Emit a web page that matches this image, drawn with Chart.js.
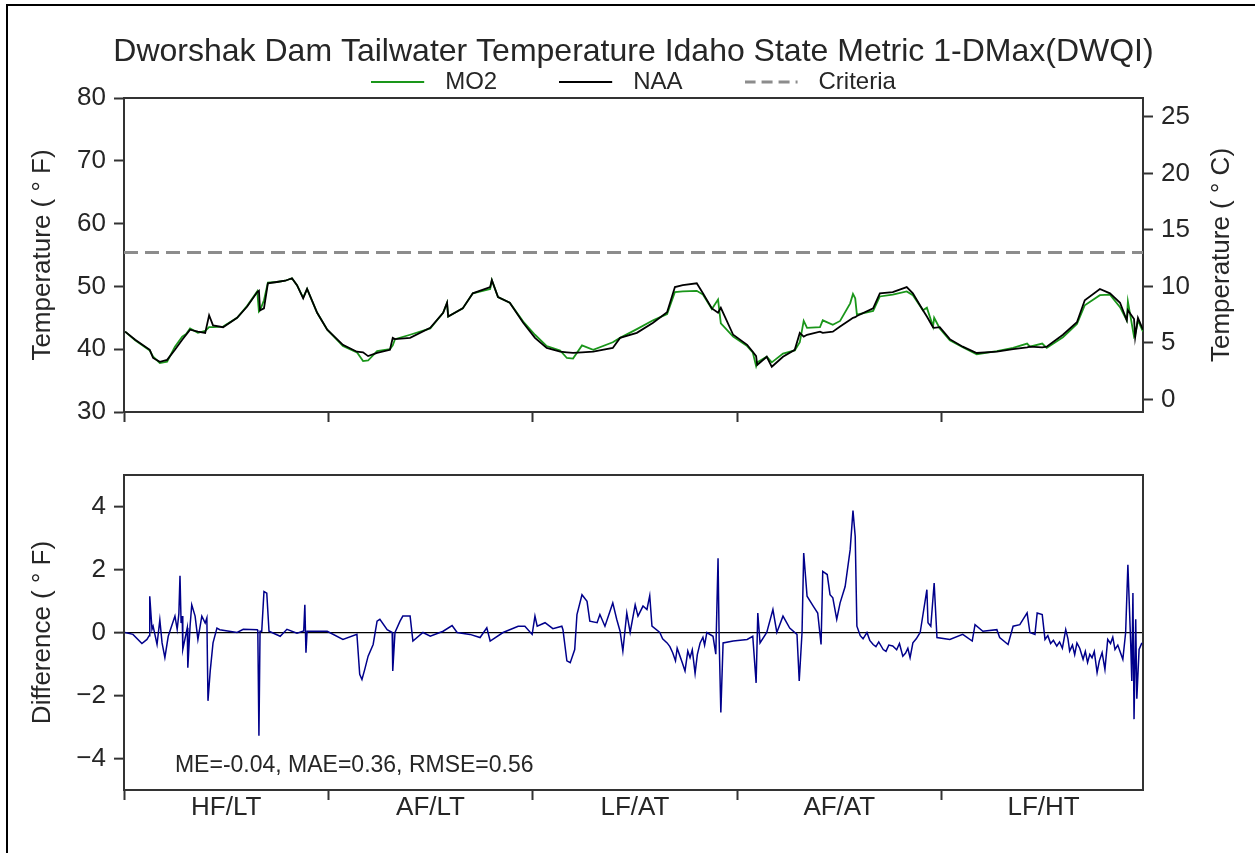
<!DOCTYPE html>
<html><head><meta charset="utf-8">
<script src="https://cdn.jsdelivr.net/npm/chart.js@4.4.1/dist/chart.umd.min.js"></script>
<style>
html,body{margin:0;padding:0;background:#fff;}
#wrap{position:relative;width:1255px;height:853px;overflow:hidden;background:#fff;}
#frame{position:absolute;left:6px;top:4px;width:1300px;height:900px;border-left:2px solid #000;border-top:2px solid #000;}
#c1{position:absolute;left:0;top:0;width:1255px;height:440px;}
#c2{position:absolute;left:0;top:430px;width:1255px;height:423px;}
</style></head><body>
<div id="wrap"><div id="frame"></div>
<canvas id="c1" width="1255" height="440"></canvas>
<canvas id="c2" width="1255" height="423"></canvas>
</div>
<script>
// ---------------- DATA ----------------
const chartTitle = 'Dworshak Dam Tailwater Temperature Idaho State Metric 1-DMax(DWQI)';
const seriesNames = ['MO2', 'NAA', 'Criteria'];
const axisTitleF = 'Temperature ( \u00B0 F)';
const axisTitleC = 'Temperature ( \u00B0 C)';
const axisTitleDiff = 'Difference ( \u00B0 F)';
const periodLabels = ['HF/LT', 'AF/LT', 'LF/AT', 'AF/AT', 'LF/HT'];
const periodStarts = [0, 365, 730, 1095, 1460];      // day index where each period begins
const periodCenters = [182.5, 547.5, 912.5, 1277.5, 1642.5];
const dayRange = [0, 1820];
const tempTicksF = [30, 40, 50, 60, 70, 80];
const tempTicksC = [0, 5, 10, 15, 20, 25];
const diffTicks = [-4, -2, 0, 2, 4];
const diffTickLabels = ['\u22124', '\u22122', '0', '2', '4'];
const statsText = 'ME=-0.04, MAE=0.36, RMSE=0.56';

const tempDays = [
  2,20,46,52,64,77,91,104,111,118,
  132,145,152,159,177,202,220,238,241,243,
  250,257,273,288,300,309,320,327,345,363,
  391,416,427,436,452,475,480,484,511,547,
  570,577,579,605,623,654,657,668,689,713,
  734,755,779,791,802,818,838,873,886,916,
  945,970,984,998,1023,1034,1050,1061,1066,1088,
  1113,1123,1129,1131,1148,1157,1177,1198,1207,1214,
  1220,1243,1248,1266,1279,1297,1302,1306,1309,1338,
  1350,1373,1398,1409,1427,1434,1445,1447,1457,1475,
  1498,1523,1559,1588,1613,1618,1640,1648,1677,1702,
  1716,1743,1761,1779,1791,1793,1804,1806,1811,1820];
const naaF = [
  42.8,41.5,39.9,38.6,38.0,38.3,39.9,41.5,42.3,43.1,
  42.8,42.6,45.4,43.8,43.5,45.0,46.8,49.1,49.3,46.2,
  46.5,50.5,50.7,50.9,51.3,50.2,48.1,49.6,45.8,43.1,
  40.7,39.6,39.5,38.9,39.4,39.9,41.8,41.6,41.8,43.4,
  45.8,47.4,45.2,46.5,48.9,49.9,51.0,48.3,47.4,44.2,
  41.8,40.2,39.6,39.5,39.4,39.5,39.6,40.2,41.8,42.6,
  44.2,45.9,49.9,50.2,50.5,48.9,46.5,45.8,46.6,42.3,
  40.7,39.6,38.9,37.5,38.8,37.2,38.8,39.9,42.6,42.0,
  42.3,42.8,42.6,42.8,43.6,44.7,45.0,45.1,45.3,46.5,
  48.9,49.1,49.9,48.9,46.2,45.2,43.5,43.4,43.5,41.6,
  40.4,39.4,39.6,40.0,40.3,40.4,40.3,40.4,42.3,44.3,
  47.8,49.6,48.9,47.4,44.6,46.2,44.8,41.9,45.0,43.1];
const mo2F = [
  42.8,41.4,39.8,38.8,37.8,38.0,40.4,42.0,42.4,43.3,
  42.6,42.9,43.5,43.5,43.6,45.0,46.9,49.2,46.0,46.2,
  47.8,50.6,50.7,50.9,51.3,50.2,48.2,49.6,45.8,43.1,
  40.5,39.5,38.1,38.2,39.7,40.0,40.6,41.6,42.3,43.3,
  45.8,47.4,45.2,46.5,48.9,49.6,51.0,48.3,47.4,44.4,
  42.3,40.5,39.8,38.6,38.5,40.6,39.9,41.1,41.8,43.2,
  44.6,45.6,49.1,49.2,49.3,48.7,46.4,47.9,44.1,42.0,
  40.5,39.5,37.3,37.9,38.8,37.9,39.3,39.8,41.1,44.5,
  43.4,43.5,44.6,43.9,44.5,47.3,48.8,48.1,45.5,46.1,
  48.4,48.7,49.2,48.6,46.2,46.6,43.6,45.0,43.3,41.4,
  40.3,39.2,39.7,40.2,40.9,40.4,40.9,40.2,41.9,44.0,
  47.0,48.6,48.7,46.7,44.6,47.6,42.0,42.3,44.6,42.8];
const criteriaDays = [0, 1820];
const criteriaF = [55.4, 55.4];

const diffDays = [
  2,16,32,41,45,46,50,52,59,64,
  68,73,79,91,95,98,100,102,104,105,
  113,114,118,121,127,132,139,145,148,150,
  154,159,166,171,202,213,238,239,241,243,
  246,250,255,259,279,291,309,321,323,325,
  327,363,391,416,421,425,430,436,445,452,
  457,470,479,480,484,493,498,511,516,534,
  547,570,586,595,618,636,648,654,677,704,
  716,729,734,738,752,766,782,784,791,797,
  805,809,818,827,832,845,850,859,873,880,
  886,891,898,904,913,918,927,934,939,943,
  957,962,970,975,980,985,988,993,997,1002,
  1007,1011,1015,1020,1024,1029,1034,1037,1041,1052,
  1057,1061,1063,1066,1070,1088,1113,1123,1129,1132,
  1136,1148,1159,1166,1177,1189,1202,1206,1211,1214,
  1220,1231,1239,1245,1248,1256,1261,1266,1273,1279,
  1288,1297,1302,1306,1309,1315,1320,1327,1332,1338,
  1343,1348,1356,1361,1366,1373,1380,1385,1391,1396,
  1400,1404,1409,1415,1422,1434,1436,1441,1447,1452,
  1475,1498,1515,1520,1534,1559,1564,1579,1588,1600,
  1613,1618,1627,1631,1640,1645,1650,1655,1660,1666,
  1671,1676,1682,1686,1689,1694,1698,1702,1707,1713,
  1717,1721,1725,1729,1733,1738,1742,1747,1752,1757,
  1762,1766,1770,1775,1779,1784,1789,1793,1798,1800,
  1802,1804,1807,1809,1813,1818];
const diffF = [
  0,-0.06,-0.35,-0.22,-0.1,1.15,0.1,0.2,-0.38,0.4,
  -0.33,-0.8,-0.12,0.52,0.1,0.6,1.8,0.3,0.52,-0.54,
  0.15,-1.12,0.2,0.88,0.52,-0.22,0.52,0.3,0.46,-2.17,
  -1.22,-0.33,0.14,0.09,0.0,0.1,0.09,0.05,-3.28,0.04,
  0.04,1.3,1.25,0.04,-0.12,0.1,-0.02,0.05,0.88,-0.64,
  0.04,0.04,-0.22,-0.06,-1.33,-1.49,-1.17,-0.75,-0.38,0.36,
  0.42,0.09,0.0,-1.22,0.0,0.36,0.52,0.52,-0.27,0.0,
  -0.12,0.04,0.22,0.0,-0.06,-0.16,0.15,-0.27,0.0,0.2,
  0.2,-0.06,0.52,0.2,0.31,0.12,0.2,0.09,-0.9,-0.96,
  -0.54,0.57,1.2,0.99,0.36,0.31,0.57,0.2,0.94,0.42,
  0.04,-0.59,0.62,0.0,0.88,0.52,0.84,0.73,1.17,0.2,
  0.0,-0.2,-0.33,-0.45,-0.64,-0.9,-0.5,-0.75,-0.95,-1.22,
  -0.59,-0.8,-0.55,-1.3,-0.7,-0.33,-0.15,-0.4,0.0,-0.12,
  -0.69,2.36,-0.22,-2.54,-0.33,-0.27,-0.22,-0.12,-1.6,0.62,
  -0.33,0.0,0.73,0.0,0.52,0.14,-0.06,-1.54,0.0,2.52,
  1.15,0.84,0.62,-0.38,1.94,1.84,1.2,1.1,0.42,0.94,
  1.46,2.63,3.87,3.05,0.2,-0.1,-0.2,0.0,-0.25,-0.38,
  -0.45,-0.3,-0.54,-0.6,-0.4,-0.43,-0.55,-0.35,-0.75,-0.65,
  -0.5,-0.8,-0.33,-0.2,0.0,1.36,0.31,0.2,1.57,-0.16,
  -0.22,-0.06,-0.27,0.25,0.04,0.09,-0.16,-0.38,0.2,0.25,
  0.62,0.0,-0.06,0.62,0.57,-0.22,-0.1,-0.35,-0.25,-0.43,
  -0.3,-0.5,0.09,-0.2,-0.59,-0.4,-0.7,-0.33,-0.5,-0.85,
  -0.6,-0.95,-0.69,-0.8,-0.6,-1.27,-0.9,-0.64,-1.17,-0.22,
  -0.35,-0.15,-0.54,-0.4,-0.6,-0.85,0.0,2.15,-0.33,-1.54,
  1.25,-2.75,0.42,-2.1,-0.54,-0.33];
const statsPos = [91, -4.22];   // data coordinates of the statistics note

// ---------------- STYLE ----------------
const FONT = '"Liberation Sans", Arial, Helvetica, sans-serif';
const TXT = '#262626';
const SPINE = '#333333';
const GREEN = '#1a961a';
Chart.defaults.font.family = FONT;
Chart.defaults.color = TXT;

const fToC = f => (f - 32) / 1.8;
const pts = (xs, ys) => xs.map((d, i) => ({x: d, y: ys[i]}));

function legendSymbol(color, width, dash) {
  const c = document.createElement('canvas');
  c.width = 62; c.height = 6;
  const g = c.getContext('2d');
  g.strokeStyle = color; g.lineWidth = width; g.setLineDash(dash);
  g.beginPath(); g.moveTo(0, 3); g.lineTo(53, 3); g.stroke();
  return c;
}

const spine = {color: SPINE, width: 2};
const tickGrid = {drawOnChartArea: false, tickLength: 10, tickWidth: 2, tickColor: SPINE};
const hiddenAxis = (pos, isX) => ({
  type: 'linear', position: pos, display: true,
  ticks: {display: false}, grid: {display: false, drawTicks: false},
  border: spine,
  afterFit: s => { if (isX) s.height = 0; else s.width = 0; }
});

// right-hand axis title, read bottom-to-top like the left one
const rightTitlePlugin = {
  id: 'rightTitle',
  afterDraw(chart) {
    const s = chart.scales.yC, ctx = chart.ctx;
    ctx.save();
    ctx.font = '26px ' + FONT;
    ctx.fillStyle = TXT;
    ctx.textAlign = 'center';
    ctx.textBaseline = 'middle';
    ctx.translate(s.right - 33, (s.top + s.bottom) / 2);
    ctx.rotate(-Math.PI / 2);
    ctx.fillText(axisTitleC, 0, 0);
    ctx.restore();
  }
};

// ---------------- TOP PANEL ----------------
new Chart(document.getElementById('c1'), {
  type: 'line',
  data: {
    datasets: [
      {label: seriesNames[0], data: pts(tempDays, mo2F), borderColor: GREEN, backgroundColor: GREEN,
       borderWidth: 1.8, pointRadius: 0, order: 2, pointStyle: legendSymbol(GREEN, 2, []), yAxisID: 'y'},
      {label: seriesNames[1], data: pts(tempDays, naaF), borderColor: '#000', backgroundColor: '#000',
       borderWidth: 1.8, pointRadius: 0, order: 1, pointStyle: legendSymbol('#000', 2, []), yAxisID: 'y'},
      {label: seriesNames[2], data: pts(criteriaDays, criteriaF), borderColor: '#8c8c8c', backgroundColor: '#8c8c8c',
       borderWidth: 3, borderDash: [14, 7], pointRadius: 0, order: 3, pointStyle: legendSymbol('#8c8c8c', 3, [11, 6]), yAxisID: 'y'}
    ]
  },
  plugins: [rightTitlePlugin],
  options: {
    responsive: false, animation: false, events: [],
    layout: {padding: {left: 12, right: 0, top: 0, bottom: 0}},
    plugins: {
      title: {display: true, text: chartTitle, fullSize: true, color: TXT,
              font: {size: 32, weight: 'normal'}, padding: {top: 33, bottom: -63.4}},
      legend: {display: true, fullSize: false, maxHeight: 90,
               labels: {usePointStyle: true, pointStyleWidth: 62, padding: 62, color: TXT,
                        font: {size: 24}, sort: (a, b) => a.datasetIndex - b.datasetIndex}},
      tooltip: {enabled: false}
    },
    scales: {
      x: {type: 'linear', min: dayRange[0], max: dayRange[1],
          afterBuildTicks: s => { s.ticks = periodStarts.map(v => ({value: v})); },
          ticks: {display: false}, grid: tickGrid, border: spine,
          afterFit: s => { s.height = 28; }},
      xTop: Object.assign(hiddenAxis('top', true), {min: dayRange[0], max: dayRange[1]}),
      y: {type: 'linear', position: 'left', min: 30, max: 80,
          afterBuildTicks: s => { s.ticks = tempTicksF.map(v => ({value: v})); },
          ticks: {font: {size: 26}, color: TXT, padding: 8},
          grid: tickGrid, border: spine,
          title: {display: true, text: axisTitleF, font: {size: 26}, color: TXT, padding: {top: 15, bottom: 0}},
          afterFit: s => { s.width = 112; }},
      yC: {type: 'linear', position: 'right', min: fToC(30), max: fToC(80),
          afterBuildTicks: s => { s.ticks = tempTicksC.map(v => ({value: v})); },
          ticks: {font: {size: 26}, color: TXT, padding: 8},
          grid: tickGrid, border: spine,
          title: {display: false},
          afterFit: s => { s.width = 112; }}
    }
  }
});

// ---------------- BOTTOM PANEL ----------------
const statsPlugin = {
  id: 'statsNote',
  afterDatasetsDraw(chart) {
    const {ctx, scales} = chart;
    ctx.save();
    ctx.font = '23px ' + FONT;
    ctx.fillStyle = TXT;
    ctx.textAlign = 'left';
    ctx.textBaseline = 'middle';
    ctx.fillText(statsText, scales.x.getPixelForValue(statsPos[0]), scales.y.getPixelForValue(statsPos[1]));
    ctx.restore();
  }
};

new Chart(document.getElementById('c2'), {
  type: 'line',
  data: {
    datasets: [
      {label: 'Difference', data: pts(diffDays, diffF), borderColor: '#00008b',
       borderWidth: 1.5, pointRadius: 0}
    ]
  },
  plugins: [statsPlugin],
  options: {
    responsive: false, animation: false, events: [],
    layout: {padding: {top: 45, right: 112, left: 0, bottom: 0}},
    plugins: {legend: {display: false}, title: {display: false}, tooltip: {enabled: false}},
    scales: {
      x: {type: 'linear', min: dayRange[0], max: dayRange[1],
          afterBuildTicks: s => {
            s.ticks = periodStarts.concat(periodCenters).sort((a, b) => a - b).map(v => ({value: v}));
          },
          ticks: {autoSkip: false, maxRotation: 0, font: {size: 26}, color: TXT, padding: -8,
                  callback: v => { const i = periodCenters.indexOf(v); return i >= 0 ? periodLabels[i] : ''; }},
          grid: {drawOnChartArea: false, tickLength: 10, tickWidth: 2,
                 tickColor: c => periodStarts.includes(c.tick && c.tick.value) ? SPINE : 'rgba(0,0,0,0)'},
          border: spine,
          afterFit: s => { s.height = 63; }},
      xTop: Object.assign(hiddenAxis('top', true), {min: dayRange[0], max: dayRange[1]}),
      y: {type: 'linear', position: 'left', min: -5, max: 5,
          afterBuildTicks: s => { s.ticks = diffTicks.map(v => ({value: v})); },
          ticks: {font: {size: 26}, color: TXT, padding: 8,
                  callback: v => diffTickLabels[diffTicks.indexOf(v)]},
          grid: {drawOnChartArea: true, tickLength: 10, tickWidth: 2, tickColor: SPINE,
                 lineWidth: 1.3, color: c => (c.tick && c.tick.value === 0) ? '#000' : 'rgba(0,0,0,0)'},
          border: spine,
          title: {display: true, text: axisTitleDiff, font: {size: 26}, color: TXT, padding: {top: 27, bottom: 0}},
          afterFit: s => { s.width = 124; }},
      yR: hiddenAxis('right', false)
    }
  }
});
</script>
</body></html>
